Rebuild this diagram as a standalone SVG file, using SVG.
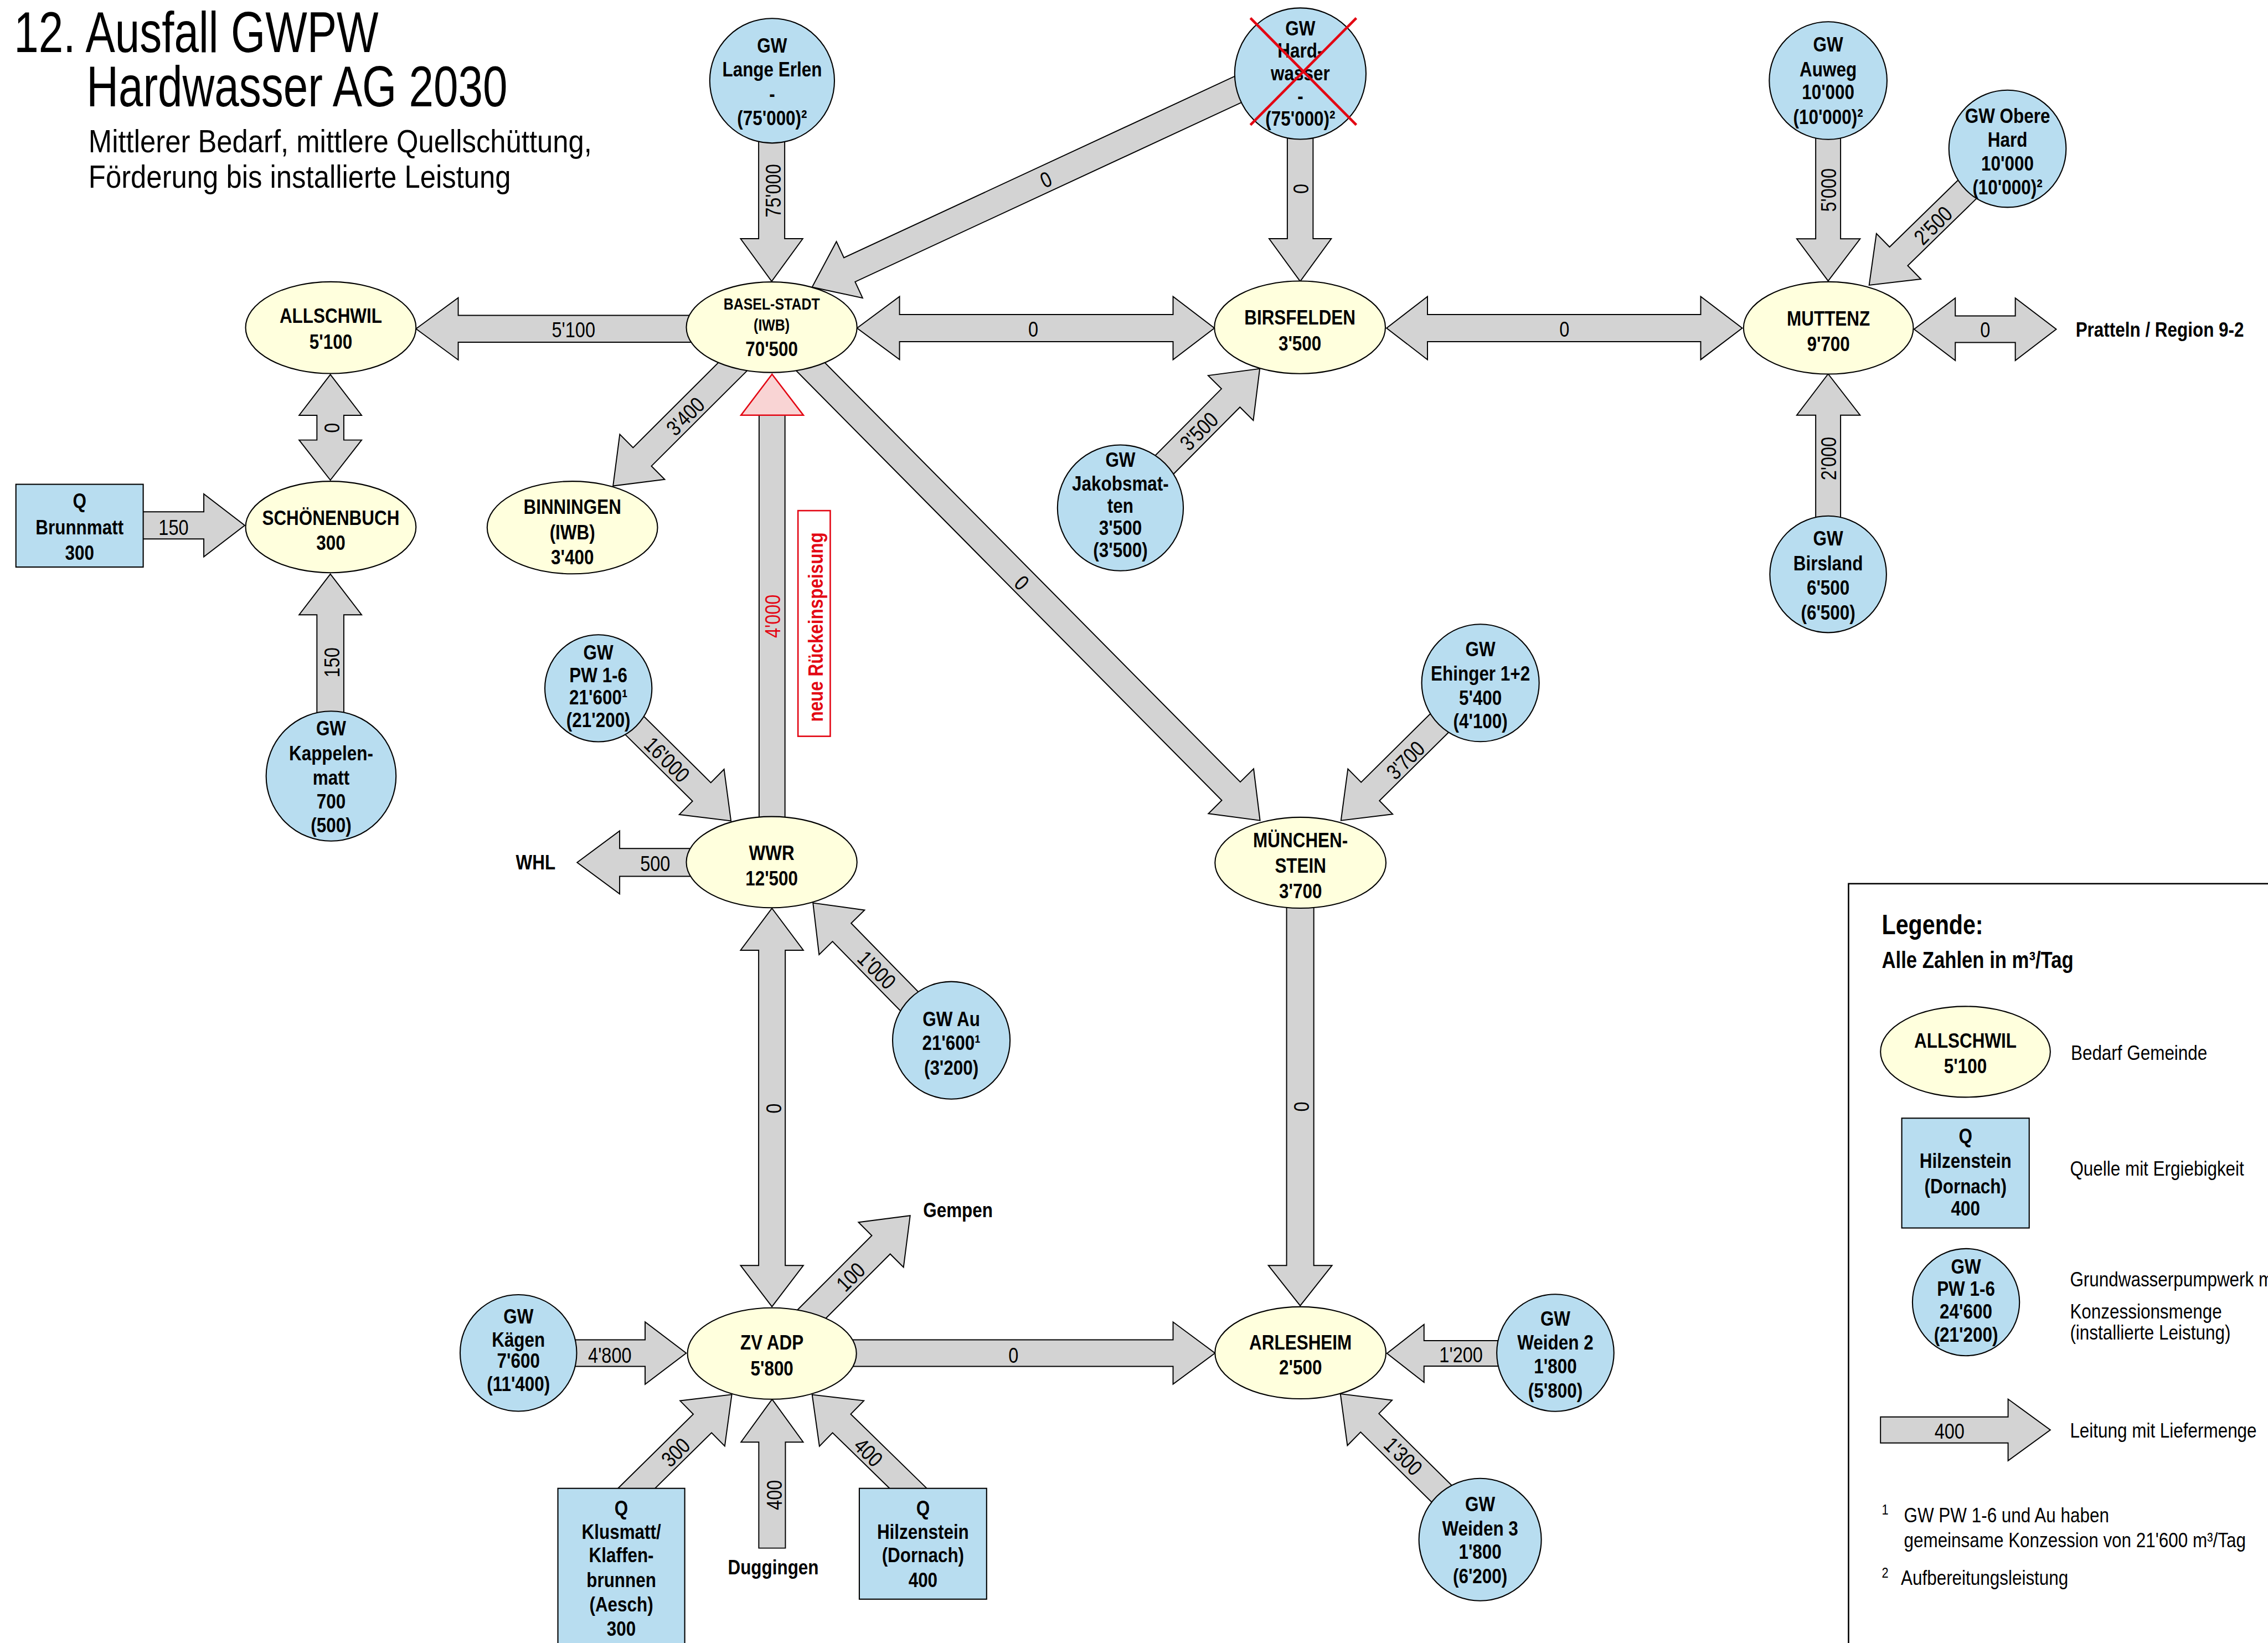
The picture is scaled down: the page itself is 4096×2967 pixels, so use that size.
<svg xmlns="http://www.w3.org/2000/svg" width="4096" height="2967" viewBox="0 0 4096 2967">
<style>
text { font-family: "Liberation Sans", Arial, sans-serif; fill: #000; }
.ar { fill: #d3d3d3; stroke: #000; stroke-width: 0.75; stroke-linejoin: miter; }
.ye { fill: #ffffdd; stroke: #000; stroke-width: 0.8; }
.bl { fill: #b8ddf0; stroke: #000; stroke-width: 0.8; }
.nt { font-size: 14.5px; font-weight: bold; text-anchor: middle; transform-box: fill-box; transform-origin: center; transform: scaleX(0.83); }
.sm { font-size: 11.5px; }
.al { font-size: 15px; text-anchor: middle; transform-box: fill-box; transform-origin: center; transform: scaleX(0.83); }
.lg { font-size: 14.5px; transform-box: fill-box; transform-origin: left center; transform: scaleX(0.83); }
.red { fill: #e30613; }
.ttl { font-size: 39.4px; }
.sub { font-size: 22px; }
</style>
<rect x="0" y="0" width="4096" height="2967" fill="#fff"/>
<g transform="scale(2.612245)">

<g id="title">
<text class="ttl" x="9.7" y="35.9" textLength="252" lengthAdjust="spacingAndGlyphs">12. Ausfall GWPW</text>
<text class="ttl" x="59.8" y="73.6" textLength="291" lengthAdjust="spacingAndGlyphs">Hardwasser AG 2030</text>
<text class="sub" x="61.2" y="105.3" textLength="348" lengthAdjust="spacingAndGlyphs">Mittlerer Bedarf, mittlere Quellschüttung,</text>
<text class="sub" x="61.2" y="129.9" textLength="292" lengthAdjust="spacingAndGlyphs">Förderung bis installierte Leistung</text>
</g>

<g id="connectors">
<!-- vertical / horizontal arrows -->
<path class="ar" d="M524.5,80 V165 H512 L533.5,194.5 L555,165 H542.5 V80 Z"/>
<path class="ar" d="M890,70 V165 H877.4 L898.9,194.5 L920.4,165 H907.8 V70 Z"/>
<path class="ar" d="M500,218 H316.8 V205.8 L287.6,227.3 L316.8,248.8 V236.6 H500 Z"/>
<path class="ar" d="M592.5,226.8 L621.9,205 V217.4 H811 V205 L839.6,226.8 L811,248.6 V236.2 H621.9 V248.6 Z"/>
<path class="ar" d="M958.6,226.8 L986.9,205 V217.4 H1175.8 V205 L1204.5,226.8 L1175.8,248.6 V236.2 H986.9 V248.6 Z"/>
<path class="ar" d="M1323.3,227.6 L1351.8,206 V218.4 H1393.3 V206 L1421.6,227.6 L1393.3,249.2 V236.8 H1351.8 V249.2 Z"/>
<path class="ar" d="M228.4,258.9 L250,287.1 H237.7 V304.2 H250 L228.4,331.9 L206.8,304.2 H219.1 V287.1 H206.8 Z"/>
<path class="ar" d="M90,353.8 H140.9 V341.5 L169.2,363.2 L140.9,384.9 V372.6 H90 Z"/>
<path class="ar" d="M219.1,515 V425 H206.8 L228.4,396.8 L250,425 H237.7 V515 Z"/>
<path class="ar" d="M510,586.6 H428.4 V574.4 L399,596.2 L428.4,618 V605.8 H510 Z"/>
<path class="ar" d="M533.7,627.9 L555.4,656.9 H542.9 V874.8 H555.4 L533.7,903.3 L512,874.8 H524.5 V656.9 H512 Z"/>
<path class="ar" d="M380,926.2 H446 V913.9 L474.4,935.4 L446,956.9 V944.6 H380 Z"/>
<path class="ar" d="M570,926.2 H811 V913.9 L840,935.4 L811,956.9 V944.6 H570 Z"/>
<path class="ar" d="M889.5,612 V874.8 H876.9 L898.9,902.6 L920.9,874.8 H908.3 V612 Z"/>
<path class="ar" d="M1055,926.8 H984.5 V915.6 L958.9,935.6 L984.5,955.6 V944.4 H1055 Z"/>
<path class="ar" d="M524.6,1070.2 V996.9 H512.3 L533.8,967.3 L555.3,996.9 H543 V1070.2 Z"/>
<path class="ar" d="M1255.3,75 V165.1 H1242.2 L1263.9,194.2 L1286,165.1 H1272.5 V75 Z"/>
<path class="ar" d="M1255.3,380 V287 H1242.2 L1263.9,258.5 L1286,287 H1272.5 V380 Z"/>
<!-- WWR -> Basel (neue Rückeinspeisung) -->
<path class="ar" d="M524.8,590 V287 H542.7 V590 Z"/>
<path d="M512.3,287 L533.75,258.7 L555.4,287 Z" fill="#f9d4d4" stroke="#e30613" stroke-width="1"/>
<!-- diagonal arrows -->
<g transform="translate(891.9,45.1) rotate(155.1)"><path class="ar" d="M0,-9.2 H335.8 V-21.5 L364.3,0 L335.8,21.5 V9.2 H0 Z"/></g>
<g transform="translate(519.6,240.5) rotate(135.1)"><path class="ar" d="M0,-9 H106.7 V-22 L135.2,0 L106.7,22 V9 H0 Z"/></g>
<g transform="translate(547.4,240.4) rotate(45.27)"><path class="ar" d="M0,-9 H431.5 V-22 L460,0 L431.5,22 V9 H0 Z"/></g>
<g transform="translate(788.5,337.9) rotate(-45.2)"><path class="ar" d="M0,-9 H88.5 V-22 L117,0 L88.5,22 V9 H0 Z"/></g>
<g transform="translate(1011.9,483.3) rotate(135.3)"><path class="ar" d="M0,-9 H90.8 V-22 L119.3,0 L90.8,22 V9 H0 Z"/></g>
<g transform="translate(1377.2,114.2) rotate(135.7)"><path class="ar" d="M0,-9 H90.2 V-22 L118.7,0 L90.2,22 V9 H0 Z"/></g>
<g transform="translate(1011.5,1047.2) rotate(-135.4)"><path class="ar" d="M0,-9 H90.6 V-22 L119.1,0 L90.6,22 V9 H0 Z"/></g>
<g transform="translate(421.7,484.7) rotate(44.7)"><path class="ar" d="M0,-9 H89.2 V-22 L117.7,0 L89.2,22 V9 H0 Z"/></g>
<g transform="translate(645.95,709.85) rotate(-134.4)"><path class="ar" d="M0,-9 H91.4 V-22 L119.9,0 L91.4,22 V9 H0 Z"/></g>
<g transform="translate(548.1,921.5) rotate(-45)"><path class="ar" d="M0,-9 H86.25 V-22 L114.75,0 L86.25,22 V9 H0 Z"/></g>
<g transform="translate(426.55,1042.2) rotate(-44.55)"><path class="ar" d="M0,-9 H82.9 V-22 L111.4,0 L82.9,22 V9 H0 Z"/></g>
<g transform="translate(641.5,1042.2) rotate(-135.7)"><path class="ar" d="M0,-9 H83.3 V-22 L111.8,0 L83.3,22 V9 H0 Z"/></g>

<!-- labels -->
<text class="al" x="396.5" y="233">5'100</text>
<text class="al" x="714.3" y="232.6">0</text>
<text class="al" x="1081.6" y="232.6">0</text>
<text class="al" x="1372.5" y="233">0</text>
<text class="al" x="120" y="369.7">150</text>
<text class="al" x="453" y="602.2">500</text>
<text class="al" x="421.6" y="942">4'800</text>
<text class="al" x="700.7" y="942">0</text>
<text class="al" x="1010.1" y="941.7">1'200</text>
<g transform="translate(534.5,131.9) rotate(-90)"><text class="al" y="5.4">75'000</text></g>
<g transform="translate(899,130.5) rotate(-90)"><text class="al" y="5.4">0</text></g>
<g transform="translate(723,124) rotate(-24.9)"><text class="al" y="5.4">0</text></g>
<g transform="translate(229.1,295.8) rotate(-90)"><text class="al" y="5.4">0</text></g>
<g transform="translate(229.1,458) rotate(-90)"><text class="al" y="5.4">150</text></g>
<g transform="translate(473.7,287.7) rotate(-45)"><text class="al" y="5.4">3'400</text></g>
<g transform="translate(706.5,402.8) rotate(45)"><text class="al" y="5.4">0</text></g>
<g transform="translate(828.8,298) rotate(-45)"><text class="al" y="5.4">3'500</text></g>
<g transform="translate(971.6,525.4) rotate(-45)"><text class="al" y="5.4">3'700</text></g>
<g transform="translate(1336.3,155.7) rotate(-45)"><text class="al" y="5.4">2'500</text></g>
<g transform="translate(1263.9,131.4) rotate(-90)"><text class="al" y="5.4">5'000</text></g>
<g transform="translate(1263.9,317) rotate(-90)"><text class="al" y="5.4">2'000</text></g>
<g transform="translate(534,426) rotate(-90)"><text class="al red" y="5.4">4'000</text></g>
<g transform="translate(461.2,525) rotate(45)"><text class="al" y="5.4">16'000</text></g>
<g transform="translate(606.3,670.4) rotate(45)"><text class="al" y="5.4">1'000</text></g>
<g transform="translate(534.6,766.3) rotate(-90)"><text class="al" y="5.4">0</text></g>
<g transform="translate(899.4,765) rotate(-90)"><text class="al" y="5.4">0</text></g>
<g transform="translate(588,882.6) rotate(-45)"><text class="al" y="5.4">100</text></g>
<g transform="translate(467,1003.9) rotate(-45)"><text class="al" y="5.4">300</text></g>
<g transform="translate(600.5,1003.9) rotate(45)"><text class="al" y="5.4">400</text></g>
<g transform="translate(535.1,1033.5) rotate(-90)"><text class="al" y="5.4">400</text></g>
<g transform="translate(970.2,1006.6) rotate(45)"><text class="al" y="5.4">1'300</text></g>
</g>

<g id="n-rueckeinspeisung">
<rect x="551.7" y="353" width="22.3" height="156" fill="#fff" stroke="#e30613" stroke-width="1"/>
<g transform="translate(563.5,433.5) rotate(-90)"><text class="nt red" y="5.3">neue Rückeinspeisung</text></g>
</g>

<g id="n-lange-erlen">
<circle class="bl" cx="533.8" cy="55.8" r="43.1"/>
<text class="nt" x="533.8" y="36.2">GW</text>
<text class="nt" x="533.8" y="53">Lange Erlen</text>
<text class="nt" x="533.8" y="69.7">-</text>
<text class="nt" x="533.8" y="86.4">(75'000)²</text>
</g>
<g id="n-hardwasser">
<circle class="bl" cx="899" cy="50.9" r="45.4"/>
<text class="nt" x="899" y="24.4">GW</text>
<text class="nt" x="899" y="40">Hard-</text>
<text class="nt" x="899" y="55.6">wasser</text>
<text class="nt" x="899" y="71.3">-</text>
<text class="nt" x="899" y="87">(75'000)²</text>
<path d="M864.5,12.5 L937.7,86.4 M937.7,12.5 L864.5,86.4" stroke="#e30613" stroke-width="1.8" fill="none"/>
</g>
<g id="n-auweg">
<circle class="bl" cx="1263.9" cy="55.7" r="40.7"/>
<text class="nt" x="1263.9" y="35.7">GW</text>
<text class="nt" x="1263.9" y="52.8">Auweg</text>
<text class="nt" x="1263.9" y="68.6">10'000</text>
<text class="nt" x="1263.9" y="85.7">(10'000)²</text>
</g>
<g id="n-obere-hard">
<circle class="bl" cx="1387.9" cy="102.8" r="40.5"/>
<text class="nt" x="1387.9" y="85.1">GW Obere</text>
<text class="nt" x="1387.9" y="101.4">Hard</text>
<text class="nt" x="1387.9" y="118">10'000</text>
<text class="nt" x="1387.9" y="134.2">(10'000)²</text>
</g>
<g id="n-allschwil">
<ellipse class="ye" cx="228.7" cy="226.5" rx="58.9" ry="31.7"/>
<text class="nt" x="228.7" y="223.3">ALLSCHWIL</text>
<text class="nt" x="228.7" y="241.2">5'100</text>
</g>
<g id="n-basel-stadt">
<ellipse class="ye" cx="533.5" cy="226.2" rx="59" ry="31.3"/>
<text class="nt sm" x="533.5" y="213.9">BASEL-STADT</text>
<text class="nt sm" x="533.5" y="228.5">(IWB)</text>
<text class="nt" x="533.5" y="246.1">70'500</text>
</g>
<g id="n-birsfelden">
<ellipse class="ye" cx="898.7" cy="226.3" rx="59.1" ry="32"/>
<text class="nt" x="898.7" y="224.5">BIRSFELDEN</text>
<text class="nt" x="898.7" y="242.3">3'500</text>
</g>
<g id="n-muttenz">
<ellipse class="ye" cx="1264.1" cy="226.7" rx="58.7" ry="31.9"/>
<text class="nt" x="1264.1" y="225.1">MUTTENZ</text>
<text class="nt" x="1264.1" y="242.8">9'700</text>
</g>
<g id="n-pratteln">
<text class="nt" x="1493.2" y="232.8">Pratteln / Region 9-2</text>
</g>
<g id="n-schoenenbuch">
<ellipse class="ye" cx="228.7" cy="364.3" rx="58.9" ry="31.6"/>
<text class="nt" x="228.7" y="363">SCHÖNENBUCH</text>
<text class="nt" x="228.7" y="380.2">300</text>
</g>
<g id="n-brunnmatt">
<rect class="bl" x="11" y="334.8" width="88" height="57.2"/>
<text class="nt" x="55" y="351.2">Q</text>
<text class="nt" x="55" y="369.6">Brunnmatt</text>
<text class="nt" x="55" y="387.2">300</text>
</g>
<g id="n-binningen">
<ellipse class="ye" cx="395.7" cy="364.7" rx="58.9" ry="32"/>
<text class="nt" x="395.7" y="355.1">BINNINGEN</text>
<text class="nt" x="395.7" y="372.8">(IWB)</text>
<text class="nt" x="395.7" y="389.9">3'400</text>
</g>
<g id="n-jakobsmatten">
<circle class="bl" cx="774.6" cy="351.1" r="43.5"/>
<text class="nt" x="774.6" y="322.9">GW</text>
<text class="nt" x="774.6" y="339">Jakobsmat-</text>
<text class="nt" x="774.6" y="354.4">ten</text>
<text class="nt" x="774.6" y="369.8">3'500</text>
<text class="nt" x="774.6" y="385.2">(3'500)</text>
</g>
<g id="n-birsland">
<circle class="bl" cx="1263.9" cy="397" r="40.3"/>
<text class="nt" x="1263.9" y="377">GW</text>
<text class="nt" x="1263.9" y="394.2">Birsland</text>
<text class="nt" x="1263.9" y="411.3">6'500</text>
<text class="nt" x="1263.9" y="428.4">(6'500)</text>
</g>
<g id="n-ehinger">
<circle class="bl" cx="1023.5" cy="472.1" r="40.6"/>
<text class="nt" x="1023.5" y="453.8">GW</text>
<text class="nt" x="1023.5" y="470.5">Ehinger 1+2</text>
<text class="nt" x="1023.5" y="487.2">5'400</text>
<text class="nt" x="1023.5" y="503.5">(4'100)</text>
</g>
<g id="n-pw16">
<circle class="bl" cx="413.7" cy="475.8" r="37"/>
<text class="nt" x="413.7" y="455.8">GW</text>
<text class="nt" x="413.7" y="471.6">PW 1-6</text>
<text class="nt" x="413.7" y="487">21'600¹</text>
<text class="nt" x="413.7" y="502.8">(21'200)</text>
</g>
<g id="n-kappelenmatt">
<circle class="bl" cx="228.9" cy="536.5" r="44.9"/>
<text class="nt" x="228.9" y="508.5">GW</text>
<text class="nt" x="228.9" y="525.7">Kappelen-</text>
<text class="nt" x="228.9" y="542.3">matt</text>
<text class="nt" x="228.9" y="558.9">700</text>
<text class="nt" x="228.9" y="575.3">(500)</text>
</g>
<g id="n-wwr">
<ellipse class="ye" cx="533.5" cy="596" rx="59" ry="31.5"/>
<text class="nt" x="533.5" y="594.7">WWR</text>
<text class="nt" x="533.5" y="612.3">12'500</text>
</g>
<g id="n-whl">
<text class="nt" x="370.3" y="601.2">WHL</text>
</g>
<g id="n-muenchenstein">
<ellipse class="ye" cx="899.1" cy="596.4" rx="59.1" ry="31.4"/>
<text class="nt" x="899.1" y="585.7">MÜNCHEN-</text>
<text class="nt" x="899.1" y="603.2">STEIN</text>
<text class="nt" x="899.1" y="620.8">3'700</text>
</g>
<g id="n-gw-au">
<circle class="bl" cx="657.7" cy="719.2" r="40.6"/>
<text class="nt" x="657.7" y="709.2">GW Au</text>
<text class="nt" x="657.7" y="725.8">21'600¹</text>
<text class="nt" x="657.7" y="742.9">(3'200)</text>
</g>
<g id="n-gempen">
<text class="nt" x="662.3" y="841.5">Gempen</text>
</g>
<g id="n-kaegen">
<circle class="bl" cx="358.4" cy="935.3" r="40.3"/>
<text class="nt" x="358.4" y="915">GW</text>
<text class="nt" x="358.4" y="930.9">Kägen</text>
<text class="nt" x="358.4" y="945.7">7'600</text>
<text class="nt" x="358.4" y="961.5">(11'400)</text>
</g>
<g id="n-zv-adp">
<ellipse class="ye" cx="533.7" cy="935.7" rx="58.4" ry="31.6"/>
<text class="nt" x="533.7" y="933">ZV ADP</text>
<text class="nt" x="533.7" y="951">5'800</text>
</g>
<g id="n-arlesheim">
<ellipse class="ye" cx="899.1" cy="935.2" rx="59.1" ry="31.8"/>
<text class="nt" x="899.1" y="932.8">ARLESHEIM</text>
<text class="nt" x="899.1" y="950.3">2'500</text>
</g>
<g id="n-weiden2">
<circle class="bl" cx="1075.3" cy="935.2" r="40.5"/>
<text class="nt" x="1075.3" y="916.5">GW</text>
<text class="nt" x="1075.3" y="932.8">Weiden 2</text>
<text class="nt" x="1075.3" y="949.5">1'800</text>
<text class="nt" x="1075.3" y="966.2">(5'800)</text>
</g>
<g id="n-weiden3">
<circle class="bl" cx="1023.3" cy="1064.3" r="42.3"/>
<text class="nt" x="1023.3" y="1044.8">GW</text>
<text class="nt" x="1023.3" y="1061.6">Weiden 3</text>
<text class="nt" x="1023.3" y="1077.8">1'800</text>
<text class="nt" x="1023.3" y="1094.5">(6'200)</text>
</g>
<g id="n-klusmatt">
<rect class="bl" x="385.7" y="1028.9" width="87.7" height="120"/>
<text class="nt" x="429.55" y="1047.3">Q</text>
<text class="nt" x="429.55" y="1063.8">Klusmatt/</text>
<text class="nt" x="429.55" y="1080.1">Klaffen-</text>
<text class="nt" x="429.55" y="1097">brunnen</text>
<text class="nt" x="429.55" y="1114">(Aesch)</text>
<text class="nt" x="429.55" y="1131">300</text>
</g>
<g id="n-duggingen">
<text class="nt" x="534.6" y="1088.5">Duggingen</text>
</g>
<g id="n-hilzenstein">
<rect class="bl" x="594.1" y="1028.9" width="88" height="76.6"/>
<text class="nt" x="638.1" y="1047.3">Q</text>
<text class="nt" x="638.1" y="1063.8">Hilzenstein</text>
<text class="nt" x="638.1" y="1080.1">(Dornach)</text>
<text class="nt" x="638.1" y="1097">400</text>
</g>

<g id="legend">
<rect x="1278" y="610.9" width="400" height="600" fill="none" stroke="#000" stroke-width="1"/>
<text class="lg" x="1301" y="645.9" style="font-size:19px;font-weight:bold">Legende:</text>
<text class="lg" x="1301" y="669.2" style="font-size:16px;font-weight:bold">Alle Zahlen in m³/Tag</text>
<ellipse class="ye" cx="1358.8" cy="727.1" rx="58.7" ry="31.4"/>
<text class="nt" x="1358.8" y="724.2">ALLSCHWIL</text>
<text class="nt" x="1358.8" y="742">5'100</text>
<text class="lg" x="1431.7" y="732.8">Bedarf Gemeinde</text>
<rect class="bl" x="1314.8" y="773" width="88.1" height="75.9"/>
<text class="nt" x="1358.9" y="790.1">Q</text>
<text class="nt" x="1358.9" y="807.3">Hilzenstein</text>
<text class="nt" x="1358.9" y="824.8">(Dornach)</text>
<text class="nt" x="1358.9" y="840.3">400</text>
<text class="lg" x="1431.1" y="812.8">Quelle mit Ergiebigkeit</text>
<circle class="bl" cx="1359.2" cy="900.2" r="37"/>
<text class="nt" x="1359.2" y="880.5">GW</text>
<text class="nt" x="1359.2" y="895.9">PW 1-6</text>
<text class="nt" x="1359.2" y="911.4">24'600</text>
<text class="nt" x="1359.2" y="927.5">(21'200)</text>
<text class="lg" x="1431.1" y="889.1">Grundwasserpumpwerk mit</text>
<text class="lg" x="1431.1" y="911.4">Konzessionsmenge</text>
<text class="lg" x="1431.1" y="926.1">(installierte Leistung)</text>
<path class="ar" d="M1300.1,979.5 H1388.3 V967.2 L1417.5,988.5 L1388.3,1009.8 V997.5 H1300.1 Z"/>
<text class="al" x="1347.8" y="994.7">400</text>
<text class="lg" x="1431.1" y="993.8">Leitung mit Liefermenge</text>
<text class="lg" x="1301" y="1047" style="font-size:10px">1</text>
<text class="lg" x="1316.3" y="1052.2">GW PW 1-6 und Au haben</text>
<text class="lg" x="1316.3" y="1069.4">gemeinsame Konzession von 21'600 m³/Tag</text>
<text class="lg" x="1301" y="1090.7" style="font-size:10px">2</text>
<text class="lg" x="1314.2" y="1095.8">Aufbereitungsleistung</text>
</g>

</g>
</svg>
